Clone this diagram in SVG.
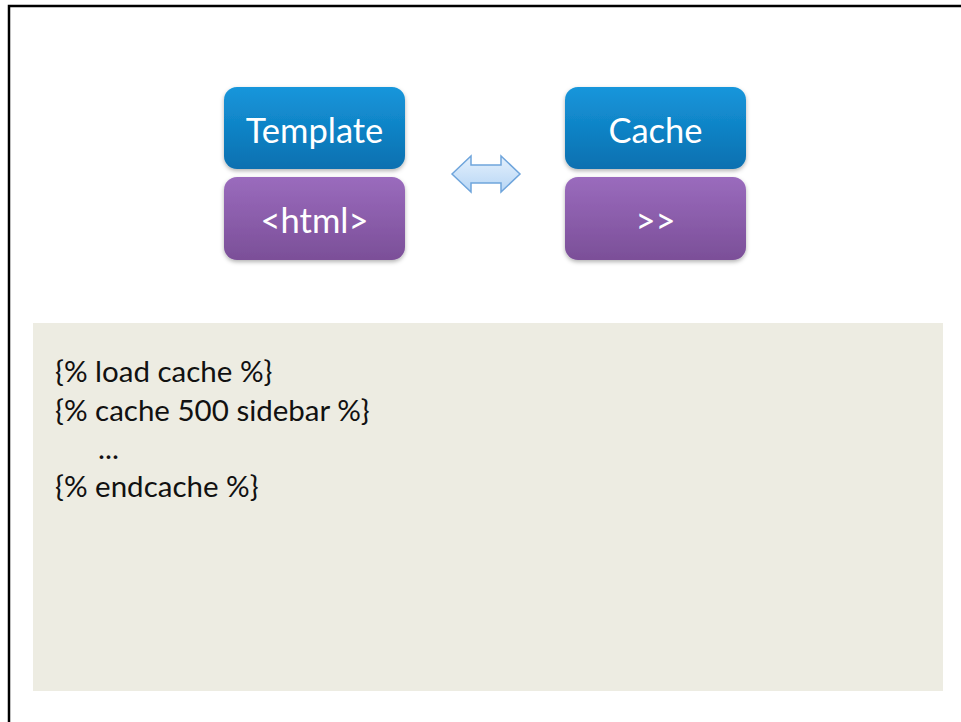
<svg xmlns="http://www.w3.org/2000/svg" width="961" height="722" viewBox="0 0 961 722">
<defs>
<linearGradient id="gBlue" x1="0" y1="0" x2="0" y2="1"><stop offset="0" stop-color="#1696DB"/><stop offset="1" stop-color="#0A70B0"/></linearGradient>
<linearGradient id="gPurple" x1="0" y1="0" x2="0" y2="1"><stop offset="0" stop-color="#9A6BBD"/><stop offset="1" stop-color="#7B4F98"/></linearGradient>
<linearGradient id="gArrow" x1="0" y1="0" x2="0" y2="1"><stop offset="0" stop-color="#E4F0FC"/><stop offset="1" stop-color="#B7D6F5"/></linearGradient>
<filter id="sh" x="-10%" y="-10%" width="120%" height="130%"><feDropShadow dx="0" dy="2" stdDeviation="2" flood-color="#000" flood-opacity="0.3"/></filter>
<style>
.lbl{font-family:Lato,"Open Sans","Liberation Sans",sans-serif;font-size:34.5px;fill:#fff;text-anchor:middle}
.code{font-family:Lato,"Open Sans","Liberation Sans",sans-serif;font-size:29.5px;fill:#111}
</style>
</defs>
<rect x="0" y="0" width="961" height="722" fill="#fff"/>
<path d="M9,722 V6 H961" fill="none" stroke="#000" stroke-width="2.5"/>
<rect x="33" y="323" width="910" height="368" fill="#EDECE2"/>
<g id="template"><rect x="224" y="87" width="181" height="82" rx="13" fill="url(#gBlue)" filter="url(#sh)"/><text class="lbl" x="314.5" y="143">Template</text></g>
<g id="html"><rect x="224" y="177" width="181" height="83" rx="13" fill="url(#gPurple)" filter="url(#sh)"/><text class="lbl" x="314.5" y="233">&lt;html&gt;</text></g>
<g id="cache"><rect x="565" y="87" width="181" height="82" rx="13" fill="url(#gBlue)" filter="url(#sh)"/><text class="lbl" x="655.5" y="143">Cache</text></g>
<g id="out"><rect x="565" y="177" width="181" height="83" rx="13" fill="url(#gPurple)" filter="url(#sh)"/><text class="lbl" x="655.5" y="233">&gt;&gt;</text></g>
<g id="connectors"><path d="M452,174 L471,156 V165 H501 V156 L520,174 L501,192 V183 H471 V192 Z" fill="url(#gArrow)" stroke="#6FA5DC" stroke-width="1.5" stroke-linejoin="miter"/></g>
<g id="code">
<text class="code" x="55" y="382">{% load cache %}</text>
<text class="code" x="55" y="421">{% cache 500 sidebar %}</text>
<text class="code" x="98" y="459">...</text>
<text class="code" x="55" y="497">{% endcache %}</text>
</g>
</svg>
